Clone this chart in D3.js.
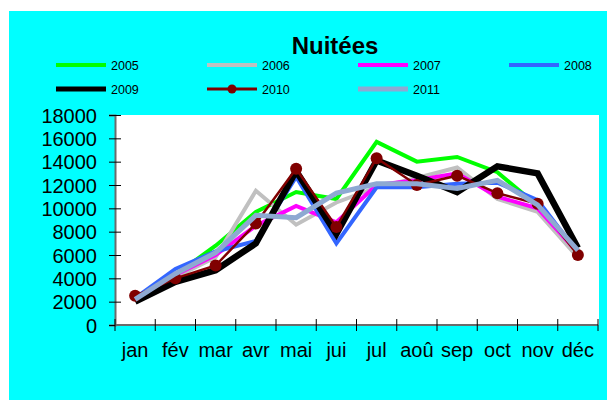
<!DOCTYPE html>
<html>
<head>
<meta charset="utf-8">
<script src="https://cdn.jsdelivr.net/npm/d3@7"></script>
<style>
  body { margin: 0; background: #fff; }
  text { font-family: "Liberation Sans", Arial, sans-serif; }
</style>
</head>
<body>
<div id="chart"></div>
<script>
// data
var months = ["jan", "fév", "mar", "avr", "mai", "jui", "jul", "aoû", "sep", "oct", "nov", "déc"];
var years = ["2005", "2006", "2007", "2008", "2009", "2010", "2011"];
var yTicks = [0, 2000, 4000, 6000, 8000, 10000, 12000, 14000, 16000, 18000];

var v2005 = [2200, 4300, 6800, 9700, 11400, 10800, 15700, 14000, 14400, 13100, 10200, 6200];
var v2006 = [2100, 4100, 5800, 11500, 8600, 10500, 11800, 12600, 13500, 10800, 9700, 5800];
var v2007 = [2200, 4300, 6000, 8500, 10200, 8800, 12000, 12400, 13000, 11000, 10000, 6200];
var v2008 = [2300, 4800, 6300, 7200, 12700, 7000, 11800, 11800, 12100, 12200, 10700, 6200];
var v2009 = [2000, 3700, 4700, 7000, 13200, 7800, 14100, 12800, 11400, 13600, 13000, 6600];
var v2010 = [2500, 4000, 5100, 8700, 13400, 8400, 14300, 12000, 12800, 11300, 10400, 6000];
var v2011 = [2200, 4400, 6200, 9400, 9200, 11300, 12100, 12100, 11700, 12400, 10300, 6400];

var values = [v2005, v2006, v2007, v2008, v2009, v2010, v2011];

// series styles
var colors = ["#00ff00", "#c0c0c0", "#ff00ff", "#3366ff", "#000000", "#800000", "#8ea9d2"];
var widths = [4, 4, 4, 4, 6.5, 2.5, 5];
var hasMarker = [false, false, false, false, false, true, false];

var W = 607, H = 400;
var plot = {left: 115, top: 115, right: 599, bottom: 325};

var svg = d3.select("#chart")
  .append("svg")
    .attr("width", W)
    .attr("height", H);

// backgrounds
svg.append("rect")
    .attr("x", 9).attr("y", 11)
    .attr("width", W - 9).attr("height", H - 11)
    .attr("fill", "#00ffff");

svg.append("rect")
    .attr("x", plot.left).attr("y", plot.top)
    .attr("width", plot.right - plot.left)
    .attr("height", plot.bottom - plot.top)
    .attr("fill", "#ffffff");

// scales
var x = d3.scaleBand()
  .domain(months)
  .range([plot.left, 598]);

var y = d3.scaleLinear()
  .domain([0, 18000])
  .range([plot.bottom, plot.top]);

function cx(m) { return x(m) + x.bandwidth() / 2; }

// title
svg.append("text")
    .attr("x", 335)
    .attr("y", 54)
    .attr("text-anchor", "middle")
    .style("font-size", "24px")
    .style("font-weight", "bold")
    .text("Nuitées");

// legend
var legend = svg.append("g");
years.forEach(function(yr, i) {
  var col = i % 4, row = Math.floor(i / 4);
  var lx = 56 + col * 151, ly = 65 + row * 24;
  var g = legend.append("g").attr("transform", "translate(" + lx + "," + ly + ")");
  g.append("line")
      .attr("x1", 0).attr("x2", 50)
      .attr("y1", 0).attr("y2", 0)
      .attr("stroke", colors[i])
      .attr("stroke-width", i == 5 ? 3 : Math.min(widths[i], 5));
  if (hasMarker[i]) {
    g.append("circle")
        .attr("cx", 25).attr("cy", 0).attr("r", 4.5)
        .attr("fill", colors[i]);
  }
  g.append("text")
      .attr("x", 55)
      .attr("y", 4.5)
      .style("font-size", "12.5px")
      .text(yr);
});

// Y axis
var yAxis = svg.append("g")
    .attr("transform", "translate(" + plot.left + ",0)")
    .call(d3.axisLeft(y).tickValues(yTicks).tickFormat(d3.format("d")).tickSize(6).tickPadding(12));
yAxis.select(".domain").attr("stroke", "#6b6b6b").attr("stroke-width", 2);
yAxis.selectAll(".tick line").attr("x2", 6).attr("x1", -6).attr("stroke", "#000");
yAxis.selectAll(".tick text")
    .style("font-size", "20px")
    .attr("font-family", null)
    .attr("dy", "0.36em")
    .attr("x", -18);

// X axis: labels at category centres, ticks at category borders
var xAxis = svg.append("g")
    .attr("transform", "translate(0," + plot.bottom + ")")
    .call(d3.axisBottom(x).tickSize(0).tickPadding(18));
xAxis.select(".domain").remove();
xAxis.selectAll(".tick text")
    .style("font-size", "20px")
    .attr("font-family", null);

xAxis.append("line")
    .attr("x1", plot.left).attr("x2", 598)
    .attr("y1", 0).attr("y2", 0)
    .attr("stroke", "#6b6b6b")
    .attr("stroke-width", 2);

var borders = months.map(function(m) { return x(m); }).concat([x(months[11]) + x.bandwidth()]);
xAxis.selectAll(".border")
  .data(borders)
  .enter()
  .append("line")
    .attr("class", "border")
    .attr("x1", function(d) { return d; })
    .attr("x2", function(d) { return d; })
    .attr("y1", -6).attr("y2", 6)
    .attr("stroke", "#000");

// lines
var line = d3.line()
  .x(function(d, i) { return cx(months[i]); })
  .y(function(d) { return y(d); });

values.forEach(function(vals, i) {
  svg.append("path")
      .datum(vals)
      .attr("d", line)
      .attr("fill", "none")
      .attr("stroke", colors[i])
      .attr("stroke-width", widths[i])
      .attr("stroke-linejoin", "miter");

  if (hasMarker[i]) {
    svg.selectAll(".m" + i)
      .data(vals)
      .enter()
      .append("circle")
        .attr("class", "m" + i)
        .attr("cx", function(d, j) { return cx(months[j]); })
        .attr("cy", function(d) { return y(d); })
        .attr("r", 6)
        .attr("fill", colors[i]);
  }
});
</script>
</body>
</html>
